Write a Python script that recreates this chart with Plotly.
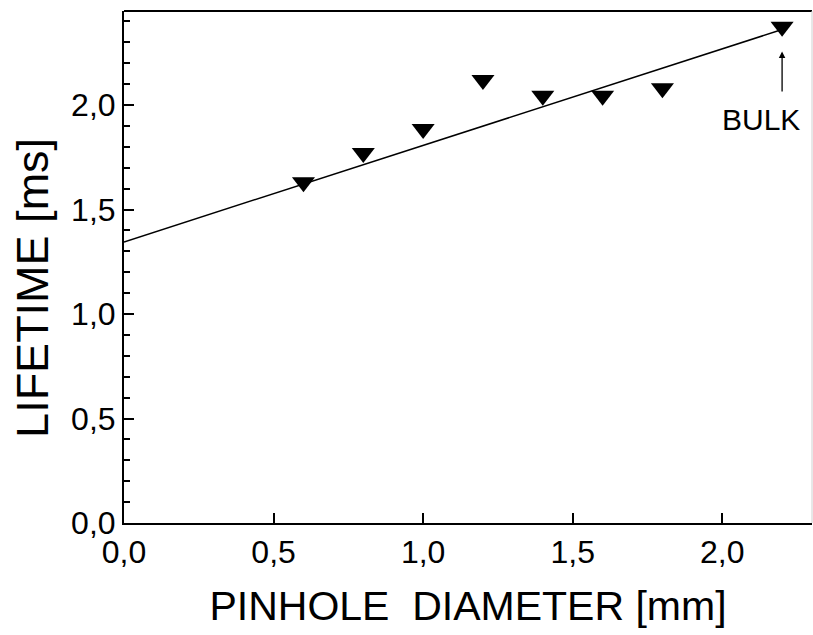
import plotly.graph_objects as go
import numpy as np

# data
diameter_mm = [0.6, 0.8, 1.0, 1.2, 1.4, 1.6, 1.8, 2.2]
lifetime_ms = [1.63, 1.77, 1.885, 2.12, 2.045, 2.045, 2.08, 2.375]
fit_intercept = 1.345
fit_slope = 0.462
fit_x_range = [0.0, 2.2]
x_ticks = [0.0, 0.5, 1.0, 1.5, 2.0]
x_tick_labels = ["0,0", "0,5", "1,0", "1,5", "2,0"]
y_ticks = [0.0, 0.5, 1.0, 1.5, 2.0]
y_tick_labels = ["0,0", "0,5", "1,0", "1,5", "2,0"]

FONT = "Liberation Sans"

fit_x = np.array(fit_x_range)
fit_y = fit_intercept + fit_slope * fit_x

fig = go.Figure()
fig.add_trace(go.Scatter(x=fit_x, y=fit_y, mode="lines",
                         line=dict(color="black", width=1.5), showlegend=False))
fig.add_trace(go.Scatter(x=diameter_mm, y=lifetime_ms, mode="markers",
                         marker=dict(symbol="triangle-down", size=20, color="black",
                                     line=dict(width=0)),
                         showlegend=False))

# arrow + BULK label
fig.add_annotation(x=2.2, y=2.256, ax=2.2, ay=2.058, xref="x", yref="y",
                   axref="x", ayref="y", showarrow=True, arrowhead=2,
                   arrowsize=1, arrowwidth=1.3, arrowcolor="black", text="")
fig.add_annotation(x=2.13, y=1.93, xref="x", yref="y", text="BULK", showarrow=False,
                   font=dict(family=FONT, size=30, color="black"))

# y-axis title
fig.add_annotation(x=0, y=1.125, xref="paper", yref="y", xshift=-91,
                   xanchor="center", yanchor="middle",
                   text="LIFETIME [ms]", textangle=-90, showarrow=False,
                   font=dict(family=FONT, size=45, color="black"))

fig.update_layout(
    width=813, height=635,
    margin=dict(l=124, r=1, t=11, b=112),
    paper_bgcolor="white", plot_bgcolor="white",
    font=dict(family=FONT, color="black"),
)
fig.update_xaxes(
    range=[0, 2.3], tickvals=x_ticks, ticktext=x_tick_labels,
    showgrid=False, zeroline=False,
    showline=True, linecolor="black", linewidth=2, mirror=False,
    ticks="inside", ticklen=10, tickwidth=1.5, tickcolor="black",
    tickfont=dict(size=32, family=FONT),
    title=dict(text="PINHOLE&nbsp; DIAMETER [mm]", font=dict(size=41, family=FONT), standoff=22),
)
fig.update_yaxes(
    range=[0, 2.45], tickvals=y_ticks, ticktext=y_tick_labels,
    showgrid=False, zeroline=False,
    showline=True, linecolor="black", linewidth=2, mirror=False,
    ticks="inside", ticklen=10, tickwidth=1.5, tickcolor="black",
    tickfont=dict(size=32, family=FONT),
    minor=dict(dtick=0.1, ticks="inside", ticklen=6, tickwidth=1.5, tickcolor="black"),
)
# top and right frame lines
fig.add_shape(type="line", xref="paper", yref="paper", x0=0, x1=1, y0=1, y1=1,
              line=dict(color="black", width=2))
fig.add_shape(type="line", xref="paper", yref="paper", x0=1, x1=1, y0=0, y1=1,
              line=dict(color="#d0d0d0", width=1))

fig.write_html("out.html")
